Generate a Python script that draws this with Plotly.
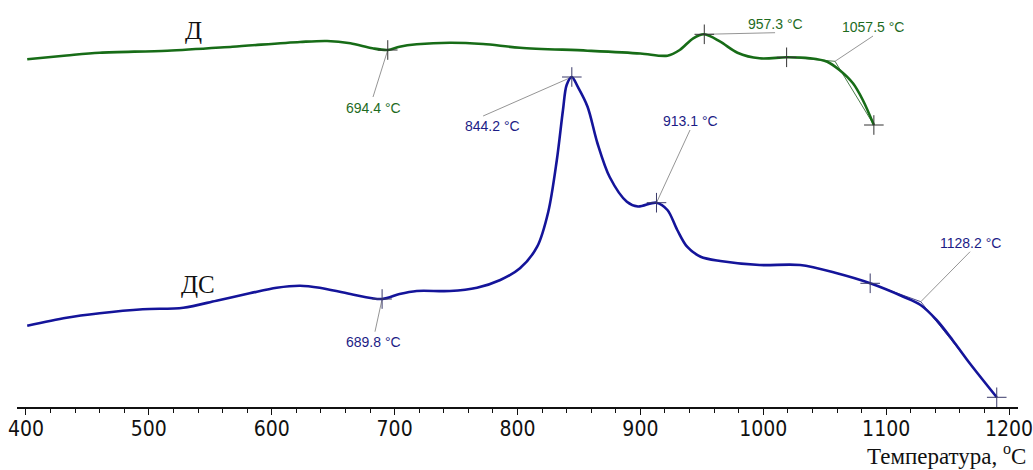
import plotly.graph_objects as go

# ---- data (temperature in °C, signal in arbitrary units) ----
d_temp = [401, 433, 460, 515, 568, 623, 645, 664, 682, 694.4, 704, 718, 745, 772, 802,
          857, 900, 922, 932, 943, 952, 965, 979, 997, 1019, 1038, 1052, 1062, 1073, 1081, 1090]
d_sig = [347.7, 351.5, 354.3, 356.3, 360.3, 365, 366, 363.7, 358.7, 357, 360.3, 362.7, 364.3, 363, 359.3,
         356.3, 353.5, 351.3, 357, 368.7, 372.7, 365.3, 354.3, 348.7, 349.7, 348.7, 345.3, 337, 323.7, 307, 282]

ds_temp = [401, 433, 460, 495, 528, 555, 582, 604, 623, 639, 664, 689.8, 704, 718, 745, 767, 786, 802,
           816, 825, 832, 837, 840, 844.2, 849, 857, 865, 875, 889, 898, 913.1, 922, 930, 938, 949, 965,
           997, 1030, 1060, 1087, 1114, 1128, 1141, 1154, 1168, 1190]
ds_sig = [81.3, 89.3, 93.7, 97.7, 99.3, 106.3, 113.7, 119.3, 121.3, 119.3, 113, 108, 113, 116, 116, 119.3, 127, 138.7,
          160.3, 195, 247, 297, 322, 330, 320.3, 300.3, 264, 230, 205.3, 200.5, 204.3, 197, 177, 160.3, 150.3, 146,
          142, 142, 133.7, 123.7, 110.3, 102, 87, 67, 43.7, 9.7]

# marked points (crosses)
d_mark_t = [694.4, 952, 1019, 1090]
d_mark_s = [357, 372.7, 349.7, 282]
ds_mark_t = [689.8, 844.2, 913.1, 1087, 1190]
ds_mark_s = [108, 330, 204.3, 123.7, 9.7]

# tangent constructions
d_tan_t = [1019, 1058.4, 1090]
d_tan_s = [349.7, 345.7, 282]
ds_tan_t = [1087, 1128.2, 1190]
ds_tan_s = [123.7, 105.3, 9.7]

# labelled temperatures: (text, point T, point S, label T, label S, series)
labels = [
    ("694.4 °C", 694.4, 357, 682.4, 299, "d"),
    ("957.3 °C", 952, 372.7, 1009.6, 383, "d"),
    ("1057.5 °C", 1058.4, 345.7, 1089.3, 380, "d"),
    ("844.2 °C", 844.2, 330, 780, 281, "ds"),
    ("913.1 °C", 913.1, 204.3, 940.4, 286, "ds"),
    ("1128.2 °C", 1128.2, 105.3, 1168.3, 164.3, "ds"),
    ("689.8 °C", 689.8, 108, 682.4, 65, "ds"),
]
# leader line end points near the labels
leader_end_t = [682.4, 1009.6, 1089.3, 772, 940.4, 1168.3, 684]
leader_end_s = [310, 374.3, 371, 291, 277, 155.3, 75.3]

x_ticks = [400, 500, 600, 700, 800, 900, 1000, 1100, 1200]

GREEN = "#176c17"
BLUE = "#14149a"
GREEN_T = "#1e6b1e"
BLUE_T = "#1c1c86"

fig = go.Figure()

# leader lines
for (txt, pt, ps, lt, ls, ser), et, es in zip(labels, leader_end_t, leader_end_s):
    fig.add_trace(go.Scatter(x=[pt, et], y=[ps, es], mode="lines",
                             line=dict(color="#7a7a7a", width=0.8),
                             hoverinfo="skip", showlegend=False))

# tangents
fig.add_trace(go.Scatter(x=d_tan_t, y=d_tan_s, mode="lines",
                         line=dict(color="#4a7a4a", width=1), showlegend=False, hoverinfo="skip"))
fig.add_trace(go.Scatter(x=ds_tan_t, y=ds_tan_s, mode="lines",
                         line=dict(color="#4a4a8a", width=1), showlegend=False, hoverinfo="skip"))

# curves
fig.add_trace(go.Scatter(x=d_temp, y=d_sig, mode="lines", name="Д",
                         line=dict(color=GREEN, width=2.6, shape="spline", smoothing=0.9),
                         showlegend=False))
fig.add_trace(go.Scatter(x=ds_temp, y=ds_sig, mode="lines", name="ДС",
                         line=dict(color=BLUE, width=2.6, shape="spline", smoothing=0.9),
                         showlegend=False))

# crosses
fig.add_trace(go.Scatter(x=d_mark_t, y=d_mark_s, mode="markers",
                         marker=dict(symbol="cross-thin", size=14, line=dict(color="#333333", width=1)),
                         showlegend=False, hoverinfo="skip"))
fig.add_trace(go.Scatter(x=ds_mark_t, y=ds_mark_s, mode="markers",
                         marker=dict(symbol="cross-thin", size=14, line=dict(color="#3a3a6a", width=1)),
                         showlegend=False, hoverinfo="skip"))

annotations = []
for txt, pt, ps, lt, ls, ser in labels:
    annotations.append(dict(x=lt, y=ls, xref="x", yref="y", text=txt, showarrow=False,
                            font=dict(family="Liberation Sans, Arial, sans-serif", size=14,
                                      color=GREEN_T if ser == "d" else BLUE_T),
                            xanchor="center", yanchor="middle"))

annotations.append(dict(x=536, y=377, xref="x", yref="y", text="Д", showarrow=False,
                        font=dict(family="Liberation Serif, Times New Roman, serif", size=25, color="#111111")))
annotations.append(dict(x=540, y=123, xref="x", yref="y", text="ДС", showarrow=False,
                        font=dict(family="Liberation Serif, Times New Roman, serif", size=25, color="#111111")))
annotations.append(dict(x=1.0099, y=0, xref="paper", yref="paper", yshift=-47,
                        text="Температура, <sup>o</sup>C", showarrow=False,
                        xanchor="right", yanchor="middle",
                        font=dict(family="Liberation Serif, Times New Roman, serif", size=23, color="#111111")))

fig.update_layout(
    width=1033, height=470,
    margin=dict(l=17, r=15, t=0, b=63),
    paper_bgcolor="white", plot_bgcolor="white",
    annotations=annotations,
    xaxis=dict(range=[392.68, 1207.3], tickvals=x_ticks, ticktext=[str(v) for v in x_ticks],
               showgrid=False, zeroline=False, showline=True, linecolor="#111111", linewidth=2,
               ticks="outside", ticklen=6, tickwidth=1.3, tickcolor="#111111",
               ticklabelstandoff=-4, ticklabeloverflow="allow",
               tickfont=dict(family="Liberation Sans Narrow, DejaVu Sans Condensed, Arial Narrow, sans-serif",
                             size=21, color="#111111"),
               minor=dict(dtick=20, tick0=400, ticks="outside", ticklen=4, tickwidth=1.3, tickcolor="#111111",
                          showgrid=False),
               fixedrange=True),
    yaxis=dict(range=[0, 407], visible=False, fixedrange=True),
)

fig.write_html("out.html", config={"displayModeBar": False},
               post_script="document.body.style.margin='0';document.body.style.overflow='hidden';")
